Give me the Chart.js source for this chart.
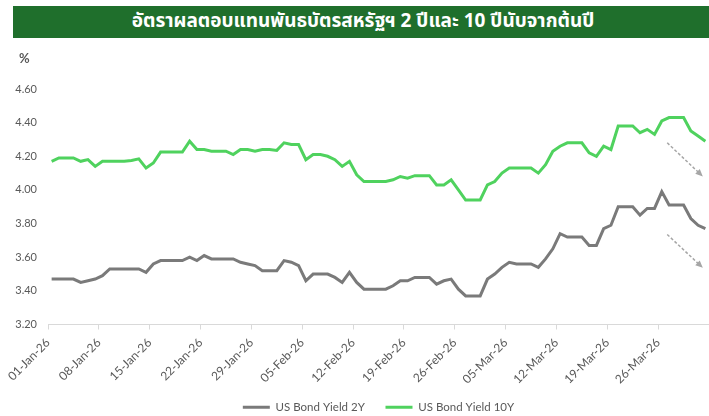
<!DOCTYPE html>
<html>
<head>
<meta charset="utf-8">
<script src="https://cdn.jsdelivr.net/npm/chart.js@4.4.1/dist/chart.umd.min.js"></script>
<style>
  html, body { margin: 0; padding: 0; background: #ffffff; }
  #wrap { position: relative; width: 709px; height: 416px; overflow: hidden; }
  #banner { position: absolute; left: 13px; top: 6px; width: 696px; height: 32px; background: #1f6f2c;
            color: #ffffff; font-family: "Noto Sans Thai", "Noto Sans", "DejaVu Sans", sans-serif; font-size: 19px;
            font-weight: bold; text-align: center; line-height: 32px; padding-left: 4px; box-sizing: border-box; }
  #unit { position: absolute; left: 19px; top: 50px; font-family: Lato, "Noto Sans", sans-serif; font-size: 13px;
          font-weight: bold; color: #595959; }
  canvas { position: absolute; left: 0; top: 0; }
</style>
</head>
<body>
<div id="wrap">
  <canvas id="c" width="709" height="416"></canvas>
  <div id="banner">อัตราผลตอบแทนพันธบัตรสหรัฐฯ 2 ปีและ 10 ปีนับจากต้นปี</div>
  <div id="unit">%</div>
</div>
<script>
const dates = [
  '01-Jan-26','02-Jan-26','03-Jan-26','04-Jan-26','05-Jan-26','06-Jan-26','07-Jan-26','08-Jan-26','09-Jan-26','10-Jan-26',
  '11-Jan-26','12-Jan-26','13-Jan-26','14-Jan-26','15-Jan-26','16-Jan-26','17-Jan-26','18-Jan-26','19-Jan-26','20-Jan-26',
  '21-Jan-26','22-Jan-26','23-Jan-26','24-Jan-26','25-Jan-26','26-Jan-26','27-Jan-26','28-Jan-26','29-Jan-26','30-Jan-26',
  '31-Jan-26','01-Feb-26','02-Feb-26','03-Feb-26','04-Feb-26','05-Feb-26','06-Feb-26','07-Feb-26','08-Feb-26','09-Feb-26',
  '10-Feb-26','11-Feb-26','12-Feb-26','13-Feb-26','14-Feb-26','15-Feb-26','16-Feb-26','17-Feb-26','18-Feb-26','19-Feb-26',
  '20-Feb-26','21-Feb-26','22-Feb-26','23-Feb-26','24-Feb-26','25-Feb-26','26-Feb-26','27-Feb-26','28-Feb-26','01-Mar-26',
  '02-Mar-26','03-Mar-26','04-Mar-26','05-Mar-26','06-Mar-26','07-Mar-26','08-Mar-26','09-Mar-26','10-Mar-26','11-Mar-26',
  '12-Mar-26','13-Mar-26','14-Mar-26','15-Mar-26','16-Mar-26','17-Mar-26','18-Mar-26','19-Mar-26','20-Mar-26','21-Mar-26',
  '22-Mar-26','23-Mar-26','24-Mar-26','25-Mar-26','26-Mar-26','27-Mar-26','28-Mar-26','29-Mar-26','30-Mar-26','31-Mar-26',
  '01-Apr-26'
];

const yield2Y = [
  3.47,3.47,3.47,3.47,3.45,3.46,3.47,3.49,3.53,3.53,
  3.53,3.53,3.53,3.51,3.56,3.58,3.58,3.58,3.58,3.60,
  3.58,3.61,3.59,3.59,3.59,3.59,3.57,3.56,3.55,3.52,
  3.52,3.52,3.58,3.57,3.55,3.46,3.50,3.50,3.50,3.48,
  3.45,3.51,3.45,3.41,3.41,3.41,3.41,3.43,3.46,3.46,
  3.48,3.48,3.48,3.44,3.46,3.47,3.41,3.37,3.37,3.37,
  3.47,3.50,3.54,3.57,3.56,3.56,3.56,3.54,3.59,3.65,
  3.74,3.72,3.72,3.72,3.67,3.67,3.77,3.79,3.90,3.90,
  3.90,3.85,3.89,3.89,3.99,3.91,3.91,3.91,3.83,3.79,
  3.77
];

const yield10Y = [
  4.17,4.19,4.19,4.19,4.17,4.18,4.14,4.17,4.17,4.17,
  4.17,4.175,4.185,4.13,4.16,4.225,4.225,4.225,4.225,4.29,
  4.24,4.24,4.23,4.23,4.23,4.21,4.24,4.24,4.23,4.24,
  4.24,4.235,4.28,4.27,4.27,4.18,4.21,4.21,4.20,4.18,
  4.14,4.17,4.09,4.05,4.05,4.05,4.05,4.06,4.08,4.07,
  4.085,4.085,4.085,4.03,4.03,4.06,4.00,3.94,3.94,3.94,
  4.03,4.05,4.10,4.13,4.13,4.13,4.13,4.10,4.15,4.23,
  4.26,4.28,4.28,4.28,4.22,4.20,4.26,4.24,4.38,4.38,
  4.38,4.34,4.36,4.33,4.41,4.43,4.43,4.43,4.35,4.32,
  4.29
];

const seriesNames = ['US Bond Yield 2Y', 'US Bond Yield 10Y'];
const yTicksMin = 3.2, yTicksMax = 4.6, yTicksStep = 0.2;
const labelEvery = 7;

// trend arrows (annotation, in data coordinates: category index, value)
const trendArrows = [
  { x1: 84.75, y1: 4.28, x2: 89.65, y2: 4.08 },
  { x1: 84.75, y1: 3.735, x2: 89.65, y2: 3.537 }
];

const arrowPlugin = {
  id: 'trendArrows',
  afterDatasetsDraw(chart) {
    const xs = chart.scales.x, ys = chart.scales.y, ctx = chart.ctx;
    const step = (xs.getPixelForValue(1) - xs.getPixelForValue(0));
    const x0 = xs.getPixelForValue(0);
    ctx.save();
    trendArrows.forEach(a => {
      const px1 = x0 + a.x1 * step, py1 = ys.getPixelForValue(a.y1);
      const px2 = x0 + a.x2 * step, py2 = ys.getPixelForValue(a.y2);
      const ang = Math.atan2(py2 - py1, px2 - px1);
      const hl = 8;
      ctx.strokeStyle = '#a6a6a6';
      ctx.fillStyle = '#a6a6a6';
      ctx.lineWidth = 1.5;
      ctx.setLineDash([3, 2]);
      ctx.beginPath();
      ctx.moveTo(px1, py1);
      ctx.lineTo(px2 - hl * Math.cos(ang) * 0.8, py2 - hl * Math.sin(ang) * 0.8);
      ctx.stroke();
      ctx.setLineDash([]);
      ctx.beginPath();
      ctx.moveTo(px2, py2);
      ctx.lineTo(px2 - hl * Math.cos(ang - 0.42), py2 - hl * Math.sin(ang - 0.42));
      ctx.lineTo(px2 - hl * Math.cos(ang + 0.42), py2 - hl * Math.sin(ang + 0.42));
      ctx.closePath();
      ctx.fill();
    });
    ctx.restore();
  }
};

new Chart(document.getElementById('c'), {
  type: 'line',
  data: {
    labels: dates,
    datasets: [
      { label: seriesNames[0], data: yield2Y, borderColor: '#7a7a7a', backgroundColor: '#7a7a7a',
        borderWidth: 3, pointRadius: 0, tension: 0, pointStyle: 'line' },
      { label: seriesNames[1], data: yield10Y, borderColor: '#4fd25e', backgroundColor: '#4fd25e',
        borderWidth: 3, pointRadius: 0, tension: 0, pointStyle: 'line' }
    ]
  },
  options: {
    responsive: false,
    animation: false,
    layout: { padding: { top: 89, left: 0, right: 0, bottom: -7 } },
    plugins: {
      title: { display: false },
      tooltip: { enabled: false },
      legend: {
        position: 'bottom',
        fullSize: false,
        labels: {
          usePointStyle: true,
          pointStyleWidth: 27,
          padding: 3,
          color: '#595959',
          font: { family: 'Lato', size: 11.5 },
          generateLabels(chart) {
            const items = Chart.defaults.plugins.legend.labels.generateLabels(chart);
            items.forEach((it, i) => { if (i === 0) it.text = it.text + '      '; it.lineWidth = 3; });
            return items;
          }
        }
      }
    },
    scales: {
      x: {
        type: 'category',
        offset: true,
        afterFit(scale) { scale.height = 74; scale.paddingLeft = 0; scale.paddingRight = 0; },
        grid: {
          offset: true,
          drawOnChartArea: false,
          drawTicks: true,
          tickLength: 5,
          tickColor: (ctx) => (ctx.index % labelEvery === 0 && ctx.index < dates.length) ? '#d9d9d9' : 'rgba(0,0,0,0)'
        },
        border: { display: true, color: '#d9d9d9', width: 1 },
        ticks: {
          autoSkip: false,
          maxRotation: 45,
          minRotation: 45,
          labelOffset: -3.6,
          padding: 6,
          color: '#595959',
          font: { family: 'Lato', size: 12 },
          callback(val, idx) { return idx % labelEvery === 0 ? dates[idx] : ''; }
        }
      },
      y: {
        min: yTicksMin,
        max: yTicksMax,
        afterFit(scale) { scale.width = 48; },
        grid: { display: false, drawTicks: false },
        border: { display: false },
        ticks: {
          stepSize: yTicksStep,
          padding: 11,
          color: '#595959',
          font: { family: 'Lato', size: 11 },
          callback(v) { return Number(v).toFixed(2); }
        }
      }
    }
  },
  plugins: [arrowPlugin]
});
</script>
</body>
</html>
